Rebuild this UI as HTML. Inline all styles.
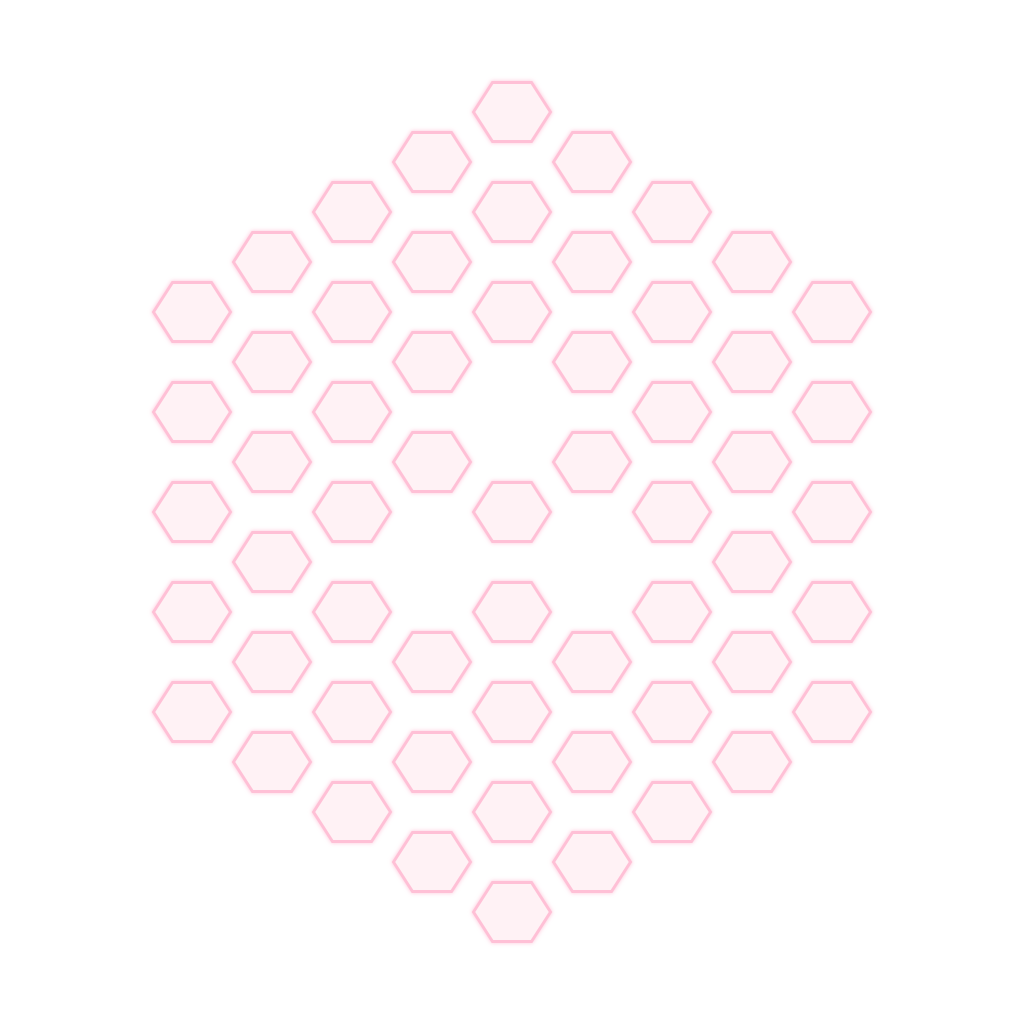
<!DOCTYPE html>
<html><head><meta charset="utf-8"><style>
html,body{margin:0;padding:0;background:#fff;}
svg{display:block;}
</style></head><body>
<svg id="chart" width="1024" height="1024" viewBox="0 0 1024 1024" xmlns="http://www.w3.org/2000/svg">
<defs>
<filter id="glow" x="-30%" y="-30%" width="160%" height="160%">
<feGaussianBlur in="SourceGraphic" stdDeviation="2" result="b"/>
<feMerge><feMergeNode in="b"/><feMergeNode in="SourceGraphic"/></feMerge>
</filter>
</defs>
<g id="cells"></g>
</svg>
<script>
// column index (0..8) and row value (center y in grid units of 50px, offset)
const cellCols = [0,0,0,0,0, 1,1,1,1,1,1, 2,2,2,2,2,2,2, 3,3,3,3,3,3,3, 4,4,4,4,4,4,4,4, 5,5,5,5,5,5,5, 6,6,6,6,6,6,6, 7,7,7,7,7,7, 8,8,8,8,8];
const cellRows = [4,6,8,10,12, 3,5,7,9,11,13, 2,4,6,8,10,12,14, 1,3,5,7,11,13,15, 0,2,4,8,10,12,14,16, 1,3,5,7,11,13,15, 2,4,6,8,10,12,14, 3,5,7,9,11,13, 4,6,8,10,12];

function xScale(c){ return 192 + c*80; }
function yScale(r){ return 112 + r*50; }

const g = document.getElementById('cells');
const NS = 'http://www.w3.org/2000/svg';
for (let i=0;i<cellCols.length;i++){
  const cx = xScale(cellCols[i]), cy = yScale(cellRows[i]);
  const hw = 38.5, qw = 19.5, hh = 29.5;
  const pts = [[cx-hw,cy],[cx-qw,cy-hh],[cx+qw,cy-hh],[cx+hw,cy],[cx+qw,cy+hh],[cx-qw,cy+hh]].map(p=>p.join(',')).join(' ');
  const p = document.createElementNS(NS,'polygon');
  p.setAttribute('points', pts);
  p.setAttribute('fill', '#fff2f5');
  p.setAttribute('stroke', '#ffc0d6');
  p.setAttribute('stroke-width', '3');
  p.setAttribute('filter', 'url(#glow)');
  
  
  g.appendChild(p);
}
</script>
</body></html>
